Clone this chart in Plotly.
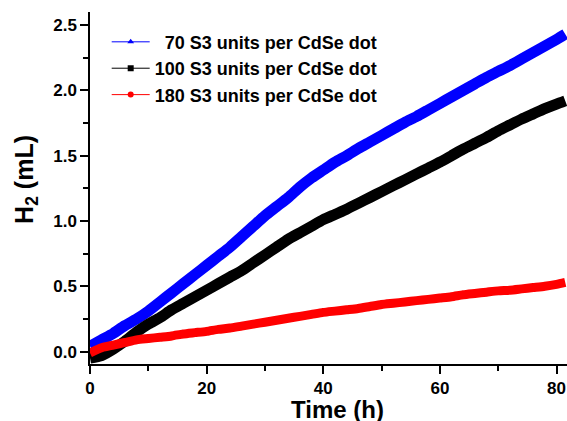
import plotly.graph_objects as go

# Time axis (h)
time_h = [0, 2, 4, 6, 8, 10, 12, 14, 16, 18, 20, 22, 24, 26, 28, 30, 32, 34, 36, 38,
          40, 42, 44, 46, 48, 50, 52, 54, 56, 58, 60, 62, 64, 66, 68, 70, 72, 74, 76, 78, 80, 81.5]

# H2 evolved (mL)
h2_70 = [0.04, 0.09, 0.14, 0.20, 0.25, 0.31, 0.38, 0.45, 0.52, 0.59, 0.66, 0.73, 0.80, 0.88,
         0.96, 1.04, 1.11, 1.18, 1.26, 1.33, 1.39, 1.45, 1.50, 1.555, 1.605, 1.655, 1.705, 1.755,
         1.80, 1.85, 1.90, 1.95, 2.00, 2.05, 2.10, 2.145, 2.19, 2.24, 2.29, 2.34, 2.39, 2.43]
h2_100 = [-0.05, -0.03, 0.02, 0.08, 0.15, 0.21, 0.26, 0.32, 0.37, 0.42, 0.47, 0.52, 0.57, 0.62,
          0.68, 0.74, 0.80, 0.86, 0.91, 0.96, 1.01, 1.05, 1.09, 1.135, 1.18, 1.225, 1.27, 1.315,
          1.36, 1.405, 1.45, 1.50, 1.55, 1.595, 1.64, 1.69, 1.735, 1.78, 1.82, 1.86, 1.895, 1.92]
h2_180 = [-0.01, 0.03, 0.05, 0.07, 0.09, 0.10, 0.11, 0.12, 0.135, 0.145, 0.155, 0.17, 0.18, 0.195,
          0.21, 0.225, 0.24, 0.255, 0.27, 0.285, 0.30, 0.31, 0.32, 0.33, 0.345, 0.36, 0.37, 0.38,
          0.39, 0.40, 0.41, 0.42, 0.435, 0.445, 0.455, 0.465, 0.47, 0.48, 0.49, 0.50, 0.515, 0.53]

series_names = ["\u00a0\u00a070 S3 units per CdSe dot",
                "100 S3 units per CdSe dot",
                "180 S3 units per CdSe dot"]
series_values = [h2_70, h2_100, h2_180]
series_colors = ["#0000ff", "#000000", "#ff0000"]
series_symbols = ["triangle-up", "square", "circle"]
series_widths = [11, 11, 9]

fig = go.Figure()
for vals, col, w in zip(series_values, series_colors, series_widths):
    fig.add_trace(go.Scatter(x=time_h, y=vals, mode="lines",
                             line=dict(color=col, width=w, shape="spline", smoothing=0.6),
                             showlegend=False, hoverinfo="skip"))
# legend entries
for name, col, sym in zip(series_names, series_colors, series_symbols):
    fig.add_trace(go.Scatter(x=[None], y=[None], mode="lines+markers", name=name,
                             line=dict(color=col, width=1),
                             marker=dict(color=col, symbol=sym, size=6)))

fig.update_layout(
    width=567, height=421,
    margin=dict(l=90, r=0, t=12, b=57),
    paper_bgcolor="white", plot_bgcolor="white",
    font=dict(family="Liberation Sans, Arial, sans-serif", color="black", weight="bold"),
    legend=dict(x=0.035, y=0.967, xanchor="left", yanchor="top",
                font=dict(size=18, weight="bold"), bgcolor="rgba(0,0,0,0)",
                tracegroupgap=0, itemwidth=38),
    annotations=[
        dict(text="Time (h)", x=0.518, y=-0.128, xref="paper", yref="paper",
             xanchor="center", yanchor="middle", showarrow=False,
             font=dict(size=24, weight="bold")),
        dict(text="H<sub>2</sub> (mL)", x=(26 - 90) / 477, y=0.523, xref="paper", yref="paper",
             xanchor="center", yanchor="middle", showarrow=False, textangle=-90,
             font=dict(size=25, weight="bold")),
    ],
)
fig.update_xaxes(range=[0, 81.8], dtick=20, tick0=0, showgrid=False, zeroline=False,
                 showline=True, linecolor="black", linewidth=1.5,
                 ticks="outside", ticklen=8, tickwidth=1.5, tickcolor="black",
                 tickfont=dict(size=17, weight="bold"),
                 minor=dict(ticks="outside", ticklen=5, tickwidth=1.5, tickcolor="black", dtick=10))
fig.update_yaxes(range=[-0.095, 2.6], dtick=0.5, tick0=0, showgrid=False, zeroline=False,
                 showline=True, linecolor="black", linewidth=1.5, tickformat=".1f",
                 ticks="outside", ticklen=8, tickwidth=1.5, tickcolor="black",
                 tickfont=dict(size=17, weight="bold"),
                 minor=dict(ticks="outside", ticklen=5, tickwidth=1.5, tickcolor="black", dtick=0.25))

fig.write_html("out.html")
